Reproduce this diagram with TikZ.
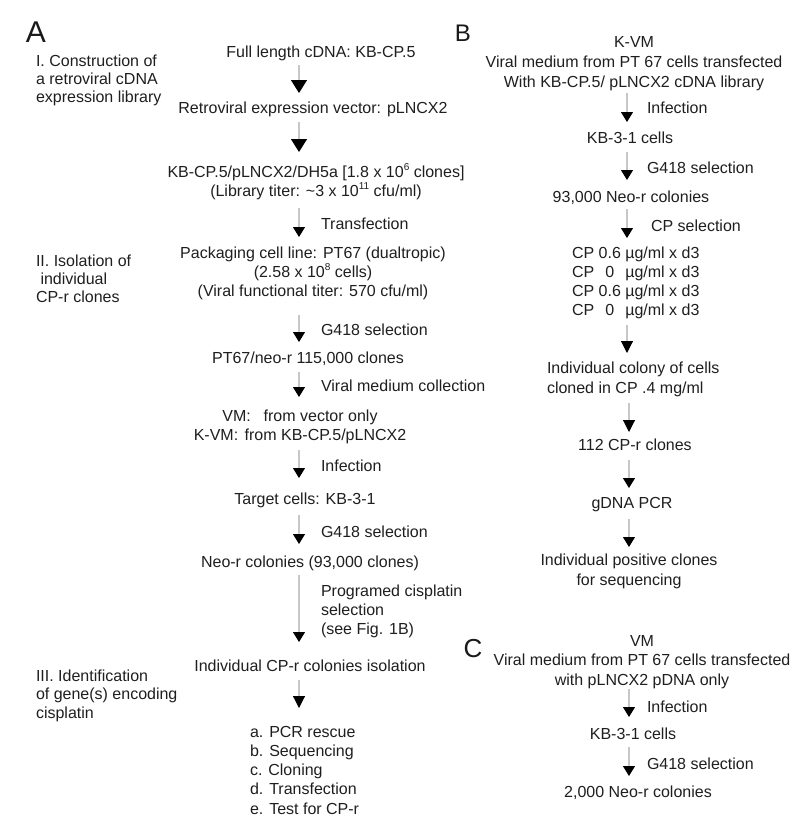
\documentclass[tikz,border=0pt]{standalone}
\usepackage{fontspec}
\setmainfont{Liberation Sans}
\usetikzlibrary{arrows.meta}
\newcommand\supx[1]{\raisebox{0.42em}{\fontsize{10}{10}\selectfont #1}}
\newcommand\stack[2][c]{\begin{tabular}[t]{@{}#1@{}}#2\end{tabular}}
\tikzset{
  txt/.style={inner sep=0pt, outer sep=0pt, font=\fontsize{16}{19.3}\selectfont, text=black!88},
  lbl/.style={txt, anchor=base west},
  ctr/.style={txt, anchor=base},
  panel/.style={inner sep=0pt, outer sep=0pt, anchor=base, text=black!90},
  flow/.style={draw=black!22, line width=1.1pt, -{Triangle[width=12pt,length=10pt,color=black]}},
  bigflow/.style={draw=black!22, line width=1.1pt, -{Triangle[width=16pt,length=13pt,color=black]}},
  midflow/.style={draw=black!22, line width=1.1pt, -{Triangle[width=12pt,length=12pt,color=black]}}
}
\begin{document}
\begin{tikzpicture}[x=1pt,y=-1pt]
\path[use as bounding box, fill=white] (0,0) rectangle (800,823);

% ---------------- Panel A ----------------
\node[panel, font=\fontsize{30}{30}\selectfont] (lA) at (36,42) {A};
\node[lbl, font=\fontsize{16}{18}\selectfont] (s1) at (36,66) {\stack[l]{I. Construction of\\a retroviral cDNA\\expression library}};
\node[lbl, font=\fontsize{16}{18}\selectfont] (s2) at (36,266) {\stack[l]{II. Isolation of\\\hspace*{4.5pt}individual\\CP-r clones}};
\node[lbl, font=\fontsize{16}{18.7}\selectfont] (s3) at (36,681) {\stack[l]{III. Identification\\of gene(s) encoding\\cisplatin}};

\node[ctr] (full) at (321,57) {Full length cDNA: KB-CP.5};
\node[ctr] (retro) at (313,113) {Retroviral expression vector: pLNCX2};
\node[ctr, font=\fontsize{16}{19}\selectfont] (lib) at (316,177) {\stack{KB-CP.5/pLNCX2/DH5a [1.8 x 10\supx{6} clones]\\(Library titer: \textasciitilde3 x 10\supx{11} cfu/ml)}};
\node[ctr, font=\fontsize{16}{19}\selectfont] (pack) at (313,258) {\stack{Packaging cell line: PT67 (dualtropic)\\(2.58 x 10\supx{8} cells)\\(Viral functional titer: 570 cfu/ml)}};
\node[ctr] (neo115) at (308,363) {PT67/neo-r 115,000 clones};
\node[ctr, font=\fontsize{16}{19}\selectfont] (vm) at (300,421) {\stack{VM:\hspace{0.8em}from vector only\\K-VM:\hspace{0.4em}from KB-CP.5/pLNCX2}};
\node[ctr] (target) at (305,504) {Target cells: KB-3-1};
\node[ctr] (neo93) at (310,567) {Neo-r colonies (93,000 clones)};
\node[ctr] (indiv) at (310,671) {Individual CP-r colonies isolation};
\node[lbl] (steps) at (250,737) {\stack[l]{a. PCR rescue\\b. Sequencing\\c. Cloning\\d. Transfection\\e. Test for CP-r}};

\node[lbl] (tTrans) at (321,229) {Transfection};
\node[lbl] (tG1) at (321,335) {G418 selection};
\node[lbl] (tVMc) at (321,391) {Viral medium collection};
\node[lbl] (tInf) at (321,471) {Infection};
\node[lbl] (tG2) at (321,537) {G418 selection};
\node[lbl, font=\fontsize{16}{19}\selectfont] (tProg) at (321,596) {\stack[l]{Programed cisplatin\\selection\\(see Fig. 1B)}};

\coordinate (a1s) at (299,65);  \coordinate (a1e) at (299,93);
\coordinate (a2s) at (299,122); \coordinate (a2e) at (299,152);
\coordinate (a3s) at (299,208); \coordinate (a3e) at (299,237);
\coordinate (a4s) at (299,315); \coordinate (a4e) at (299,342);
\coordinate (a5s) at (299,372); \coordinate (a5e) at (299,397);
\coordinate (a6s) at (299,450); \coordinate (a6e) at (299,478);
\coordinate (a7s) at (299,515); \coordinate (a7e) at (299,544);
\coordinate (a8s) at (299,575); \coordinate (a8e) at (299,642);
\coordinate (a9s) at (299,680); \coordinate (a9e) at (299,708);
\draw[bigflow] (a1s) -- (a1e);
\draw[bigflow] (a2s) -- (a2e);
\draw[flow] (a3s) -- (a3e);
\draw[flow] (a4s) -- (a4e);
\draw[flow] (a5s) -- (a5e);
\draw[flow] (a6s) -- (a6e);
\draw[flow] (a7s) -- (a7e);
\draw[flow] (a8s) -- (a8e);
\draw[midflow] (a9s) -- (a9e);

% ---------------- Panel B ----------------
\node[panel, font=\fontsize{24}{24}\selectfont] (lB) at (463,41) {B};
\node[ctr, font=\fontsize{16}{20}\selectfont] (kvm) at (634,47) {\stack{K-VM\\Viral medium from PT 67 cells transfected\\With KB-CP.5/ pLNCX2 cDNA library}};
\node[ctr] (kb31) at (630,143) {KB-3-1 cells};
\node[ctr] (neo93b) at (631,202) {93,000 Neo-r colonies};
\node[lbl] (cp) at (572,258) {\begin{tabular}[t]{@{}l@{ }c@{ }l@{}}CP&0.6&µg/ml x d3\\CP&0&µg/ml x d3\\CP&0.6&µg/ml x d3\\CP&0&µg/ml x d3\end{tabular}};
\node[lbl, font=\fontsize{16}{20}\selectfont] (colony) at (547,373) {\stack[l]{Individual colony of cells\\cloned in CP .4 mg/ml}};
\node[ctr] (cpr112) at (635,450) {112 CP-r clones};
\node[ctr] (gdna) at (632,508) {gDNA PCR};
\node[ctr, font=\fontsize{16}{20}\selectfont] (positive) at (629,565) {\stack{Individual positive clones\\for sequencing}};

\node[lbl] (bInf) at (647,113) {Infection};
\node[lbl] (bG) at (647,173) {G418 selection};
\node[lbl] (bCP) at (651,231) {CP selection};

\coordinate (b1s) at (627,93);  \coordinate (b1e) at (627,122);
\coordinate (b2s) at (627,152); \coordinate (b2e) at (627,180);
\coordinate (b3s) at (627,209); \coordinate (b3e) at (627,238);
\coordinate (b4s) at (627,325); \coordinate (b4e) at (627,353);
\coordinate (b5s) at (629,403); \coordinate (b5e) at (629,432);
\coordinate (b6s) at (629,460); \coordinate (b6e) at (629,488);
\coordinate (b7s) at (629,519); \coordinate (b7e) at (629,547);
\draw[flow] (b1s) -- (b1e);
\draw[flow] (b2s) -- (b2e);
\draw[flow] (b3s) -- (b3e);
\draw[midflow] (b4s) -- (b4e);
\draw[midflow] (b5s) -- (b5e);
\draw[flow] (b6s) -- (b6e);
\draw[flow] (b7s) -- (b7e);

% ---------------- Panel C ----------------
\node[panel, font=\fontsize{26}{26}\selectfont] (lC) at (473,657) {C};
\node[ctr, font=\fontsize{16}{19.5}\selectfont] (vmC) at (642,646) {\stack{VM\\Viral medium from PT 67 cells transfected\\with pLNCX2 pDNA only}};
\node[ctr] (kb31c) at (633,739) {KB-3-1 cells};
\node[ctr] (neo2000) at (638,797) {2,000 Neo-r colonies};
\node[lbl] (cInf) at (647,712) {Infection};
\node[lbl] (cG) at (647,769) {G418 selection};

\coordinate (c1s) at (629,689); \coordinate (c1e) at (629,717);
\coordinate (c2s) at (629,747); \coordinate (c2e) at (629,776);
\draw[flow] (c1s) -- (c1e);
\draw[flow] (c2s) -- (c2e);
\end{tikzpicture}
\end{document}
